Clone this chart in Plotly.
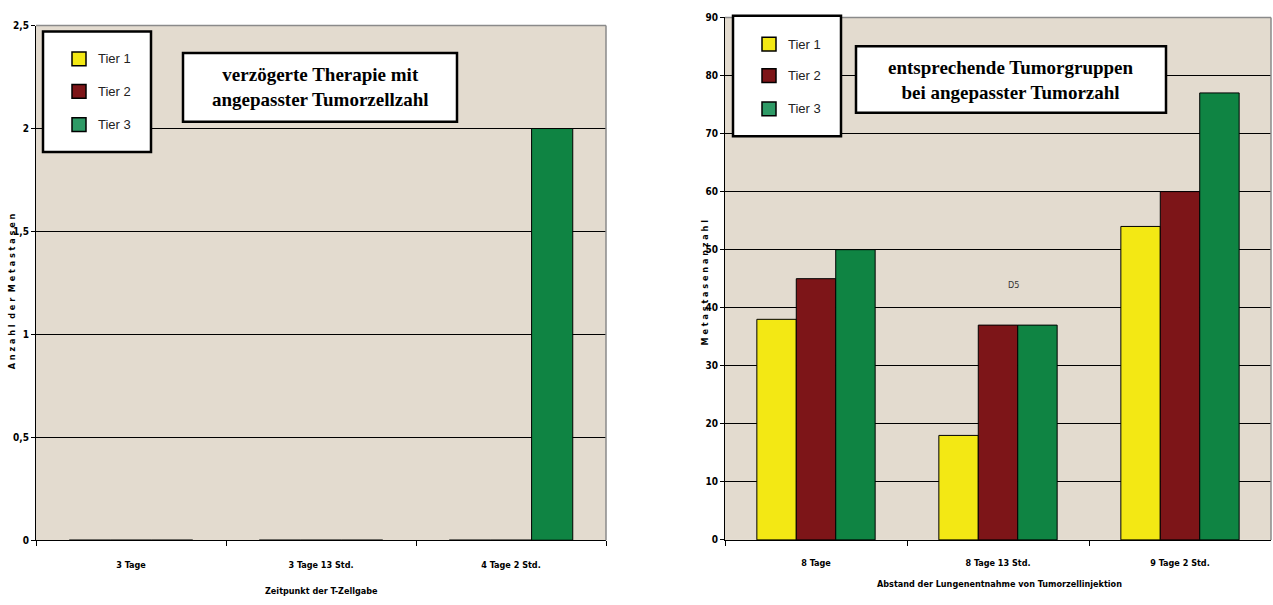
import plotly.graph_objects as go

# --- data -------------------------------------------------------------
series_names = ["Tier 1", "Tier 2", "Tier 3"]
series_colors = ["#F3E814", "#7D1518", "#0F8443"]
legend_swatch_colors = ["#F3E814", "#7D1518", "#2E9A66"]

left_categories = ["3 Tage", "3 Tage 13 Std.", "4 Tage 2 Std."]
left_values = [
    [0, 0, 0],   # Tier 1
    [0, 0, 0],   # Tier 2
    [0, 0, 2],   # Tier 3
]
left_ticks = [0, 0.5, 1, 1.5, 2, 2.5]

right_categories = ["8 Tage", "8 Tage 13 Std.", "9 Tage 2 Std."]
right_values = [
    [38, 18, 54],   # Tier 1
    [45, 37, 60],   # Tier 2
    [50, 37, 77],   # Tier 3
]
right_ticks = [0, 10, 20, 30, 40, 50, 60, 70, 80, 90]

W, H = 1273, 605
BG = "#E3DBCF"
NARROW = "DejaVu Sans Condensed, Liberation Sans Narrow, Arial Narrow"
XTICK_FONT = dict(family=NARROW, size=9, color="black", weight="bold")
YTICK_FONT = dict(family=NARROW, size=10, color="black", weight="bold")
TITLE_FONT = dict(family=NARROW, size=9, color="black", weight="bold")


def px(x):
    return x / W


def py(y):
    return 1 - y / H


fig = go.Figure()

for i, name in enumerate(series_names):
    fig.add_trace(go.Bar(
        x=left_categories, y=left_values[i], name=name,
        marker=dict(color=series_colors[i], line=dict(color="black", width=1)),
        xaxis="x", yaxis="y", showlegend=False,
    ))
    fig.add_trace(go.Bar(
        x=right_categories, y=right_values[i], name=name,
        marker=dict(color=series_colors[i], line=dict(color="black", width=1)),
        xaxis="x2", yaxis="y2", showlegend=False,
    ))


def xaxis_style(domain, anchor, standoff):
    return dict(
        domain=domain, anchor=anchor, type="category",
        tickson="boundaries", ticks="outside", ticklen=5, tickcolor="black",
        showline=True, linecolor="black", linewidth=1, mirror=False,
        showgrid=False, zeroline=False, tickfont=XTICK_FONT,
        ticklabelstandoff=standoff, fixedrange=True,
    )


def yaxis_style(domain, anchor, rng, ticks):
    return dict(
        domain=domain, anchor=anchor, range=rng, tickvals=ticks,
        ticks="outside", ticklen=4, tickcolor="black",
        showline=True, linecolor="black", linewidth=1,
        showgrid=True, gridcolor="black", gridwidth=1, zeroline=False,
        tickfont=YTICK_FONT, ticklabelstandoff=0, fixedrange=True,
    )


# plot areas (pixels)
L_X0, L_X1, L_Y0, L_Y1 = 36, 606, 20, 545
R_X0, R_X1, R_Y0, R_Y1 = 725, 1271, 11.7, 544.7

fig.update_layout(
    width=W, height=H,
    margin=dict(l=0, r=0, t=0, b=0),
    paper_bgcolor="white", plot_bgcolor=BG,
    separators=",.",
    barmode="group", bargap=0.35, bargroupgap=0,
    xaxis=xaxis_style([px(L_X0), px(L_X1)], "y", 16),
    yaxis=yaxis_style([py(L_Y1), py(L_Y0)], "x", [0, 2.5], left_ticks),
    xaxis2=xaxis_style([px(R_X0), px(R_X1)], "y2", 14),
    yaxis2=yaxis_style([py(R_Y1), py(R_Y0)], "x2", [0, 90], right_ticks),
    font=dict(family="Liberation Sans", color="black"),
)

shapes = []
annotations = []

# grey frame on top and right of each plot area
for x0, x1, y0, y1 in [(L_X0, L_X1, L_Y0, L_Y1), (R_X0, R_X1, R_Y0, R_Y1)]:
    shapes.append(dict(type="line", xref="paper", yref="paper",
                       x0=px(x0), x1=px(x1), y0=py(y0), y1=py(y0),
                       line=dict(color="#8A8A8A", width=1.5), layer="above"))
    shapes.append(dict(type="line", xref="paper", yref="paper",
                       x0=px(x1), x1=px(x1), y0=py(y0), y1=py(y1),
                       line=dict(color="#8A8A8A", width=1.5), layer="above"))


def legend_box(x0, y0, x1, y1, sq_x, sq_ys, text_x):
    shapes.append(dict(type="rect", xref="paper", yref="paper",
                       x0=px(x0), x1=px(x1), y0=py(y1), y1=py(y0),
                       fillcolor="white", line=dict(color="black", width=2.5),
                       layer="above"))
    for name, color, sy in zip(series_names, legend_swatch_colors, sq_ys):
        shapes.append(dict(type="rect", xref="paper", yref="paper",
                           x0=px(sq_x), x1=px(sq_x + 14), y0=py(sy + 14), y1=py(sy),
                           fillcolor=color, line=dict(color="black", width=1.5),
                           layer="above"))
        annotations.append(dict(xref="paper", yref="paper", x=px(text_x), y=py(sy + 7),
                                text=name, showarrow=False, xanchor="left", yanchor="middle",
                                font=dict(family="Liberation Sans", size=13, color="#222222")))


legend_box(43, 26, 151, 149, 72, [47, 80, 114], 96)
legend_box(733, 10, 841, 133, 762, [32, 64, 98], 786)


def title_box(x0, y0, x1, y1, lines):
    shapes.append(dict(type="rect", xref="paper", yref="paper",
                       x0=px(x0), x1=px(x1), y0=py(y1), y1=py(y0),
                       fillcolor="white", line=dict(color="black", width=2.5),
                       layer="above"))
    annotations.append(dict(xref="paper", yref="paper", x=px((x0 + x1) / 2), y=py((y0 + y1) / 2),
                            text="<br>".join(lines), showarrow=False,
                            xanchor="center", yanchor="middle", align="center",
                            font=dict(family="Liberation Serif", size=19, color="black")))


title_box(183, 48, 457, 118, ["<b>verzögerte Therapie mit</b>", "<b>angepasster Tumorzellzahl</b>"])
title_box(856, 41, 1166, 109, ["<b>entsprechende Tumorgruppen</b>", "<b>bei angepasster Tumorzahl</b>"])

# axis titles
annotations.append(dict(xref="paper", yref="paper", x=px(321), y=py(597),
                        text="Zeitpunkt der T-Zellgabe", showarrow=False,
                        xanchor="center", yanchor="middle", font=TITLE_FONT))
annotations.append(dict(xref="paper", yref="paper", x=px(999), y=py(590),
                        text="Abstand der Lungenentnahme von Tumorzellinjektion", showarrow=False,
                        xanchor="center", yanchor="middle", font=TITLE_FONT))
annotations.append(dict(xref="paper", yref="paper", x=px(12), y=py(291),
                        text="  ".join(" ".join(w) for w in "Anzahl der Metastasen".split()),
                        showarrow=False, textangle=-90,
                        xanchor="center", yanchor="middle", font=TITLE_FONT))
annotations.append(dict(xref="paper", yref="paper", x=px(705), y=py(282),
                        text=" ".join("Metastasenanzahl"),
                        showarrow=False, textangle=-90,
                        xanchor="center", yanchor="middle", font=TITLE_FONT))
# small cell label inside the right chart
annotations.append(dict(xref="paper", yref="paper", x=px(1013), y=py(285),
                        text="D5", showarrow=False, xanchor="center", yanchor="middle",
                        font=dict(family=NARROW, size=9, color="#333333")))

fig.update_layout(shapes=shapes, annotations=annotations)

fig.write_html("out.html")
